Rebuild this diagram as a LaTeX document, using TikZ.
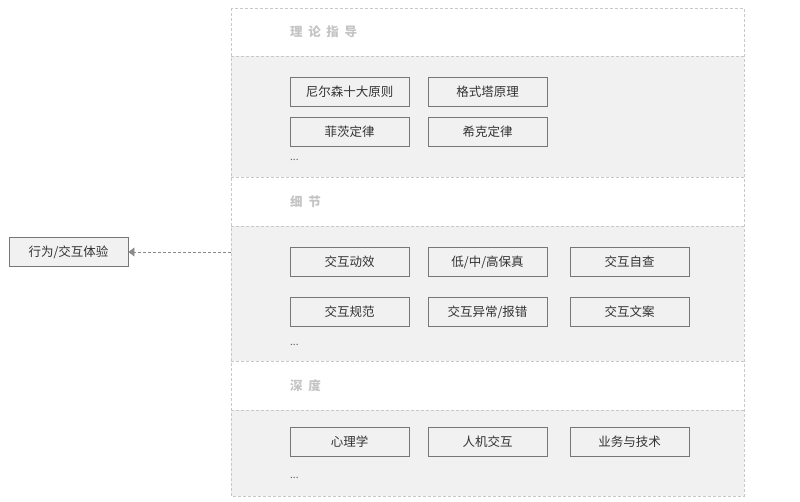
\documentclass[tikz,border=0pt]{standalone}
\usepackage{fontspec}
\setmainfont{Noto Sans CJK SC}
\usetikzlibrary{arrows.meta}
\definecolor{panel}{HTML}{F1F1F1}
\definecolor{dashc}{HTML}{C8C8C8}
\definecolor{boxc}{HTML}{777777}
\definecolor{headc}{HTML}{C4C4C4}
\definecolor{txtc}{HTML}{333333}
\definecolor{arrc}{HTML}{8A8A8A}
\tikzset{
  itembox/.style={draw=boxc, line width=0.9pt, minimum width=119pt, minimum height=29pt, inner sep=0pt, font=\fontsize{12.5}{14}\selectfont, text=txtc},
  headtxt/.style={anchor=west, font=\fontsize{12.5}{14}\selectfont\bfseries, text=headc, inner sep=0pt},
  dots/.style={anchor=west, font=\fontsize{10}{12}\selectfont, text=txtc!80, inner sep=0pt},
  sect/.style={draw=dashc, dashed, line width=0.7pt, dash pattern=on 3pt off 2pt},
}
\begin{document}
\begin{tikzpicture}[x=1pt,y=-1pt]
\useasboundingbox (0,0) rectangle (800,501);
% panels
\fill[white] (231,8) rectangle (744,496);
\fill[panel] (231,56) rectangle (744,177);
\fill[panel] (231,226) rectangle (744,361);
\fill[panel] (231,410) rectangle (744,496);
\draw[sect] (231,8) rectangle (744,496);
\draw[sect] (231,56) -- (744,56);
\draw[sect] (231,177) -- (744,177);
\draw[sect] (231,226) -- (744,226);
\draw[sect] (231,361) -- (744,361);
\draw[sect] (231,410) -- (744,410);
% headers
\node[headtxt] (h1) at (290,32) {理\hspace{0.45em}论\hspace{0.45em}指\hspace{0.45em}导};
\node[headtxt] (h2) at (290,202) {细\hspace{0.45em}节};
\node[headtxt] (h3) at (290,386) {深\hspace{0.45em}度};
% section 1
\node[itembox] (a1) at (349.5,92) {尼尔森十大原则};
\node[itembox] (a2) at (487.5,92) {格式塔原理};
\node[itembox] (a3) at (349.5,132) {菲茨定律};
\node[itembox] (a4) at (487.5,132) {希克定律};
\node[dots] (d1) at (290,160) {...};
% section 2
\node[itembox] (b1) at (349.5,262) {交互动效};
\node[itembox] (b2) at (487.5,262) {低/中/高保真};
\node[itembox] (b3) at (629.5,262) {交互自查};
\node[itembox] (b4) at (349.5,312) {交互规范};
\node[itembox] (b5) at (487.5,312) {交互异常/报错};
\node[itembox] (b6) at (629.5,312) {交互文案};
\node[dots] (d2) at (290,345) {...};
% section 3
\node[itembox] (c1) at (349.5,442) {心理学};
\node[itembox] (c2) at (487.5,442) {人机交互};
\node[itembox] (c3) at (629.5,442) {业务与技术};
\node[dots] (d3) at (290,478) {...};
% left box
\node[itembox, fill=panel] (L) at (68.5,252) {行为/交互体验};
\coordinate (src) at (231,252);
\draw[draw=arrc, line width=0.7pt, dash pattern=on 3pt off 2pt, -{Triangle[width=9pt,length=6pt,fill=arrc]}] (src) -- (L.east);
\end{tikzpicture}
\end{document}
